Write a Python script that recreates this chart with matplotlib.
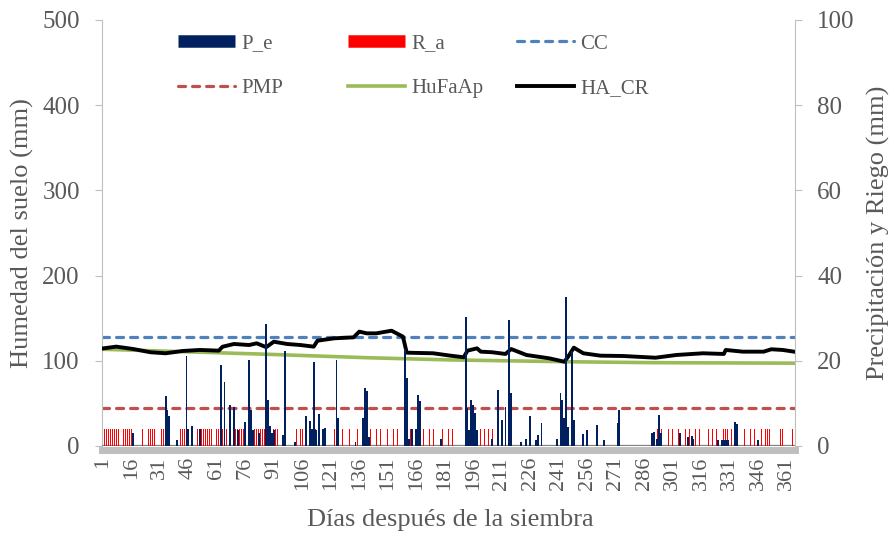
import matplotlib
matplotlib.use('Agg')
import matplotlib.pyplot as plt
from matplotlib.lines import Line2D

plt.rcParams['font.family'] = ['Liberation Serif', 'DejaVu Serif']

# Precipitacion efectiva (mm), eje derecho
pe_dias = [17, 34, 35, 36, 40, 45, 46, 48, 52, 63, 65, 68, 70, 72, 76, 78, 79, 80, 83,
           87, 88, 89, 90, 91, 96, 97, 102, 108, 110, 111, 112, 113, 115, 117, 118,
           124, 125, 134, 138, 139, 140, 141, 160, 161, 162, 164, 166, 167, 168, 179,
           192, 193, 194, 195, 196, 197, 198, 206, 209, 211, 213, 215, 216, 221, 224,
           226, 229, 230, 232, 240, 242, 243, 244, 245, 246, 248, 249, 254, 256, 261,
           265, 272, 273, 290, 291, 293, 294, 295, 305, 309, 311, 312, 325, 327, 328,
           329, 330, 334, 335, 346]
pe_mm = [3.0, 11.8, 8.4, 7.0, 1.4, 21.1, 4.1, 4.8, 4.1, 19.0, 15.1, 9.6, 9.2, 3.8, 5.7,
         20.2, 8.4, 3.8, 3.0, 28.6, 10.8, 4.8, 3.1, 3.8, 2.6, 22.4, 1.0, 7.0, 5.9, 3.9,
         19.7, 3.8, 7.5, 4.0, 4.3, 20.2, 6.5, 1.0, 6.5, 13.5, 13.0, 2.0, 22.7, 15.9, 1.6,
         4.1, 4.1, 11.9, 10.6, 1.6, 30.2, 8.8, 3.8, 10.8, 9.6, 7.7, 3.8, 1.6, 13.1, 6.1,
         9.2, 29.6, 12.4, 1.0, 1.6, 7.0, 1.3, 2.6, 5.5, 1.6, 12.5, 10.8, 6.5, 35.0, 4.5,
         22.3, 6.1, 2.9, 3.8, 4.9, 1.3, 5.5, 8.4, 3.1, 3.3, 1.6, 7.2, 3.0, 3.1, 2.0, 2.4,
         1.6, 1.4, 1.5, 1.5, 1.5, 1.5, 5.7, 5.2, 1.4]

# Riego aplicado (mm), eje derecho
ra_dias = [1, 2, 3, 4, 5, 6, 7, 8, 9, 12, 13, 14, 15, 16, 19, 20, 21, 22, 25, 26, 27,
           28, 29, 30, 32, 33, 34, 35, 36, 40, 41, 42, 43, 44, 45, 48, 49, 50, 51, 53,
           54, 55, 56, 57, 58, 60, 61, 62, 63, 64, 65, 66, 68, 69, 70, 71, 72, 73, 74,
           75, 81, 82, 83, 84, 85, 86, 87, 88, 89, 90, 91, 92, 93, 98, 100, 103, 105,
           106, 110, 113, 118, 120, 123, 125, 127, 131, 135, 138, 142, 145, 147, 149,
           151, 154, 156, 158, 160, 163, 164, 167, 170, 173, 175, 177, 180, 183, 185,
           187, 189, 196, 198, 200, 202, 204, 206, 207, 209, 211, 213, 293, 295, 297,
           299, 301, 304, 306, 308, 310, 313, 315, 317, 320, 322, 324, 327, 328, 329,
           330, 332, 336, 337, 339, 342, 344, 345, 348, 350, 351, 352, 356, 357, 358,
           359, 364, 365]
ra_mm = 4.0

# Humedad del suelo (mm), eje izquierdo
cc_mm = 128
pmp_mm = 44
hufaap_dias = [1, 43, 88, 140, 184, 245, 290, 365]
hufaap_mm = [113.5, 110.7, 107.6, 103.6, 101.0, 98.9, 97.8, 97.2]
hacr_dias = [1, 8, 17, 26, 34, 43, 52, 62, 64, 70, 78, 82, 87, 91, 98, 105, 112, 114,
             123, 133, 136, 140, 145, 153, 159, 161, 175, 184, 191, 193, 198, 200, 206,
             213, 216, 224, 236, 244, 246, 249, 254, 263, 275, 292, 303, 317, 328, 329,
             338, 349, 353, 359, 365]
hacr_mm = [114.5, 116.6, 113.8, 110.0, 108.8, 111.5, 112.7, 111.9, 116.5, 119.7, 118.5,
           120.5, 116.0, 122.4, 119.7, 118.5, 116.6, 123.6, 126.4, 127.5, 134.2, 132.2,
           132.2, 135.3, 128.3, 109.5, 108.8, 106.0, 104.1, 111.9, 114.6, 110.7, 110.0,
           108.0, 113.8, 106.8, 102.9, 98.9, 104.8, 115.4, 108.8, 106.0, 105.6, 103.6,
           106.8, 108.8, 108.0, 112.7, 110.7, 110.7, 113.5, 112.7, 110.7]

dias_tick = [1, 16, 31, 46, 61, 76, 91, 106, 121, 136, 151, 166, 181, 196, 211, 226,
             241, 256, 271, 286, 301, 316, 331, 346, 361]

gris = '#595959'
linea = '#BFBFBF'
W, H = 893, 537

fig = plt.figure(figsize=(8.93, 5.37), dpi=100)
ax = fig.add_axes([0.1142, 0.1695, 0.7761, 0.7933])
ax2 = ax.twinx()

# lineas de humedad
ax.axhline(cc_mm, color='#4F81BD', lw=2.3, ls=(0, (2.2, 2.2)), dash_capstyle='round', zorder=2)
ax.axhline(pmp_mm, color='#C0504D', lw=2.3, ls=(0, (2.2, 2.2)), dash_capstyle='round', zorder=2)
ax.plot(hufaap_dias, hufaap_mm, color='#9BBB59', lw=2.6, zorder=3)
ax.plot(hacr_dias, hacr_mm, color='black', lw=2.8, zorder=4)
ax.axhline(0, color='#7F7F7F', lw=1.6, zorder=5)

# barras
ax2.bar(ra_dias, [ra_mm] * len(ra_dias), width=0.4, color='#FF0000', linewidth=0)
ax2.bar(pe_dias, pe_mm, width=1.0, color='#002060', linewidth=0)

ax.set_xlim(0.5, 365.5)
ax.set_ylim(0, 500)
ax2.set_ylim(0, 100)
ax.set_yticks([0, 100, 200, 300, 400, 500])
ax2.set_yticks([0, 20, 40, 60, 80, 100])
ax.set_xticks(dias_tick)
ax.set_xticklabels([str(d) for d in dias_tick])

for a in (ax, ax2):
    for s in a.spines.values():
        s.set_color(linea)
ax.spines['top'].set_visible(False)
ax.spines['right'].set_visible(False)
ax2.spines['top'].set_visible(False)
ax2.spines['left'].set_visible(False)
ax2.spines['bottom'].set_visible(False)
ax.spines['bottom'].set_position(('outward', 3))
ax.spines['bottom'].set_linewidth(5)

ax.tick_params(axis='y', colors=linea, labelcolor=gris, labelsize=18, length=5, pad=11)
ax2.tick_params(axis='y', colors=linea, labelcolor=gris, labelsize=18, length=5, pad=11)
ax.tick_params(axis='x', length=0, labelcolor=gris, labelsize=16, pad=5, labelrotation=90)

fig.text(22 / W, 1 - 233 / H, 'Humedad del suelo (mm)', rotation=90,
         ha='center', va='center', fontsize=19, color=gris)
fig.text(878 / W, 1 - 233 / H, 'Precipitación y Riego (mm)', rotation=90,
         ha='center', va='center', fontsize=19, color=gris)
fig.text(450 / W, 1 - 520 / H, 'Días después de la siembra',
         ha='center', va='center', fontsize=19, color=gris)

# leyenda: tres columnas colocadas por separado
h_pe = Line2D([], [], color='#002060', lw=9, solid_capstyle='butt')
h_ra = Line2D([], [], color='#FF0000', lw=9, solid_capstyle='butt')
h_cc = Line2D([], [], color='#4F81BD', lw=2.3, ls=(0, (2.2, 2.2)), dash_capstyle='round')
h_pmp = Line2D([], [], color='#C0504D', lw=2.3, ls=(0, (2.2, 2.2)), dash_capstyle='round')
h_hu = Line2D([], [], color='#9BBB59', lw=2.6)
h_ha = Line2D([], [], color='black', lw=2.8)
columnas = [([h_pe, h_pmp], ['P_e', 'PMP'], 178),
            ([h_ra, h_hu], ['R_a', 'HuFaAp'], 348),
            ([h_cc, h_ha], ['CC', 'HA_CR'], 517)]
for handles, labels, x0 in columnas:
    ley = fig.legend(handles, labels, loc='upper left',
                     bbox_to_anchor=(x0 / W, 1 - 34 / H), frameon=False,
                     fontsize=15, handlelength=2.75, handletextpad=0.3,
                     labelspacing=1.2, borderpad=0, borderaxespad=0)
    for t in ley.get_texts():
        t.set_color(gris)

fig.savefig('out.png', dpi=100)
